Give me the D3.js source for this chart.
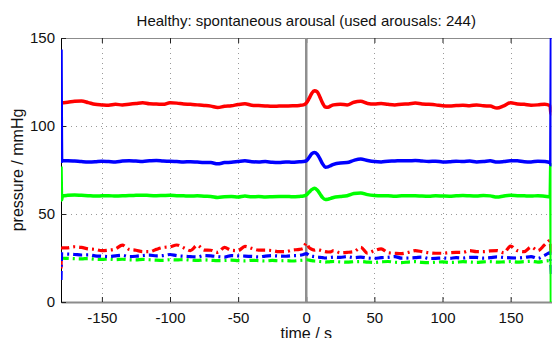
<!DOCTYPE html>
<html>
<head>
<meta charset="utf-8">
<script src="https://cdn.jsdelivr.net/npm/d3@7"></script>
<style>
    body { margin: 0; background: #fff; }
    svg { display: block; font-family: "Liberation Sans", Arial, Helvetica, sans-serif; }
</style>
</head>
<body>
<div id="chart"></div>
<script>
//---------------- data ----------------
// time axis (s), shared by every curve
var times = [
    -180, -179.5, -179,
    -175, -170, -165, -160, -155, -150, -145, -140, -135, -130, -125, -120, -115, -110, -105, -100,
    -95, -90, -85, -80, -75, -70, -65, -60, -55, -50, -45, -40, -35, -30, -25, -20, -15, -10, -5,
    -2, 0, 2, 4, 6, 8, 10, 12, 14, 16, 18, 20,
    25, 30, 35, 40, 45, 50, 55, 60, 65, 70, 75, 80, 85, 90, 95, 100, 105, 110, 115, 120,
    125, 130, 135, 140, 145, 150, 155, 160, 165, 170, 175,
    179, 179.5, 180
];

// solid curves
var redSolid = [
    113, 113, 113.2,
    113.5, 114, 114.2, 113.3, 112.3, 112, 111.8, 112.3, 112, 112.4, 112.8, 113.2, 112.6, 112.5, 112.3, 113.2,
    113, 112.5, 112.3, 112, 111.7, 111.3, 110.5, 111.2, 111.5, 112.2, 112.6, 111.8, 111.6, 111.4, 111.2, 111.3, 111.4, 111.5, 111.7,
    112, 113, 115.5, 118.5, 120, 119.5, 116.5, 113, 110.8, 110.6, 111.4, 112,
    112.4, 112, 113.5, 114, 112.8, 112.5, 112.8, 112.3, 112, 112.4, 112.5, 113, 112.5, 112.3, 112, 111.5, 111.4, 111.6, 111.8, 111.5,
    112, 111.5, 111.3, 110.2, 111.5, 113.2, 112.5, 112.3, 111.8, 112, 112.4,
    111.5, 107, 107
];
var blueSolid = [
    143.5, 80, 80.2,
    80.3, 80.1, 79.8, 79.6, 79.7, 80, 79.8, 79.6, 80.1, 80.3, 80.1, 79.9, 80.2, 80.4, 80.1, 80,
    79.8, 79.6, 79.7, 79.5, 79.3, 79.2, 78.5, 79.2, 79.4, 79.8, 80.2, 79.7, 79.6, 79.8, 79.4, 79.3, 79.6, 79.4, 79.7,
    79.8, 80.2, 82, 84.2, 85, 84, 81.5, 78.5, 76.6, 76.8, 77.5, 78.2,
    79, 79.2, 80.5, 81.2, 80.4, 79.8, 79.6, 80, 80.1, 80.3, 80.2, 80.4, 80.1, 79.9, 80, 79.6, 79.7, 80, 79.8, 80.1,
    79.6, 79.8, 80.2, 79.5, 79.8, 80.3, 80.2, 79.7, 79.6, 80, 79.8,
    79.2, 78, 160
];
var greenSolid = [
    77, 58, 60.3,
    60.6, 60.8, 60.6, 60.4, 60.2, 60.3, 60.4, 60.2, 60.3, 60.5, 60.6, 60.7, 60.5, 60.4, 60.5, 60.6,
    60.4, 60.3, 60.2, 60.3, 60.1, 60, 59.4, 59.8, 60, 59.6, 60.2, 59.8, 59.9, 59.7, 59.8, 59.9, 60, 59.8, 60,
    60.2, 60.8, 62.3, 63.8, 64.6, 63.6, 61.5, 59.3, 58.3, 58.4, 58.9, 59.4,
    59.9, 60.4, 61.6, 62, 61, 60.5, 60.3, 60.4, 60.1, 60.3, 60.4, 60.4, 60.2, 60.1, 60.3, 60.2, 60.1, 60.3, 60.5, 60.3,
    60.2, 60.5, 60.3, 59.6, 60.2, 60.6, 60.4, 60.3, 60.2, 60.4, 60.1,
    59.8, 78, -10
];

// dash-dot curves
var redDash = [
    19, 30.5, 30.8,
    30.8, 31.4, 31, 30.2, 29.9, 29.2, 29.5, 30.2, 32.3, 29.9, 29.4, 28.6, 28.6, 29.9, 31, 31.4,
    32.4, 30.8, 29.2, 32.2, 29.5, 29.4, 28.2, 31, 29.4, 29.2, 31.6, 30.5, 29.5, 29.5, 29.2, 28.6, 28.6, 29.5, 29.9,
    30.5, 33.5, 31, 30, 29.5, 29.8, 29.5, 29, 28.6, 28.4, 28.5, 29.2,
    28, 28.2, 28.6, 31, 27.7, 29.2, 30.2, 28, 27.7, 27.5, 28.2, 29.2, 28.6, 28, 27.7, 27.7, 28, 28.2, 28.2, 29.2,
    28.6, 28.6, 29, 29.2, 28, 31.8, 29.2, 28.6, 31.2, 29.2, 32.5,
    35, 30, 28
];
var blueDash = [
    12.5, 27.5, 27.3,
    27.2, 27, 26.7, 26.8, 26.2, 26, 25.8, 26.2, 26.5, 25.8, 26, 26.4, 26.6, 26.2, 26.4, 27,
    26.3, 26, 25.8, 25.6, 26.4, 26.2, 25.8, 25.5, 26.4, 26.2, 26.1, 25.9, 25.6, 26.1, 26.3, 26.1, 26, 26.3, 26.5,
    27, 27.5, 26.5, 26, 25.8, 25.5, 25.4, 25.2, 25, 25.1, 25.3, 25.5,
    25.3, 25.8, 25.2, 25.5, 25, 24.8, 25.2, 25.4, 25.8, 24.9, 25, 25.2, 25.5, 24.7, 24.8, 25, 24.8, 25.2, 25, 25.4,
    25.3, 24.9, 25.2, 25.6, 25.3, 25.1, 25, 25.3, 25.8, 24.8, 26.5,
    28, 22, 15
];
var greenDash = [
    26, 25, 24.9,
    24.8, 24.6, 24.5, 24.7, 24.3, 24.2, 24.4, 24.1, 24.3, 24, 23.9, 24.2, 24, 23.8, 23.7, 24,
    23.9, 24.1, 23.8, 23.6, 23.9, 23.7, 23.5, 23.6, 23.8, 23.5, 23.4, 23.7, 23.5, 23.3, 23.6, 23.4, 23.5, 23.3, 23.6,
    23.8, 24, 23.8, 23.5, 23.3, 23.2, 23, 22.9, 22.7, 22.8, 22.9, 23,
    22.8, 22.6, 22.9, 23, 22.7, 22.5, 22.8, 23, 22.6, 22.4, 22.7, 22.9, 22.5, 22.4, 22.6, 22.8, 22.5, 22.6, 22.9, 22.7,
    22.5, 22.8, 22.9, 22.6, 22.8, 23, 22.7, 22.9, 23.1, 22.7, 23.2,
    23.5, 23, 22
];

// tick labels
var xTicks = [-150, -100, -50, 0, 50, 100, 150];
var yTicks = [0, 50, 100, 150];

var titleText = "Healthy: spontaneous arousal (used arousals: 244)";
var xLabel = "time / s";
var yLabel = "pressure / mmHg";

//---------------- setting up the space ----------------
var width = 552;
var height = 338;
var margin = { top: 38, right: 0.5, bottom: 36, left: 61 };

var svg = d3
    .select("#chart")
    .append("svg")
    .attr("width", width)
    .attr("height", height);

var xScale = d3
    .scaleLinear()
    .domain([-180, 180])
    .range([margin.left, width - margin.right]);

var yScale = d3
    .scaleLinear()
    .domain([0, 150])
    .range([height - margin.bottom, margin.top]);

var plotLeft = xScale(-180);
var plotRight = xScale(180);
var plotTop = yScale(150);
var plotBottom = yScale(0);

// plain hyphen for negatives, like the original
var plainFormat = function(d) { return String(d); };

// clip the curves to the axes box
svg.append("clipPath")
    .attr("id", "plotClip")
    .append("rect")
    .attr("x", plotLeft)
    .attr("y", plotTop)
    .attr("width", plotRight - plotLeft)
    .attr("height", plotBottom - plotTop);

//---------------- grid ----------------
var grid = svg.append("g").attr("class", "grid");

grid.selectAll("line.vgrid")
    .data(xTicks.filter(function(d) { return d !== 0; }))
    .enter()
    .append("line")
    .attr("x1", function(d) { return Math.round(xScale(d)) + 0.5; })
    .attr("x2", function(d) { return Math.round(xScale(d)) + 0.5; })
    .attr("y1", plotTop)
    .attr("y2", plotBottom)
    .attr("stroke", "#9a9a9a")
    .attr("stroke-width", 1)
    .attr("stroke-dasharray", "1,4");

grid.selectAll("line.hgrid")
    .data(yTicks.filter(function(d) { return d !== 0 && d !== 150; }))
    .enter()
    .append("line")
    .attr("x1", plotLeft)
    .attr("x2", plotRight)
    .attr("y1", function(d) { return Math.round(yScale(d)) + 0.5; })
    .attr("y2", function(d) { return Math.round(yScale(d)) + 0.5; })
    .attr("stroke", "#9a9a9a")
    .attr("stroke-width", 1)
    .attr("stroke-dasharray", "1,4");

//---------------- axes ----------------
var xAxisBottom = d3.axisBottom(xScale).tickValues(xTicks).tickFormat(plainFormat)
    .tickSizeInner(-5).tickSizeOuter(0).tickPadding(10);
var xAxisTop = d3.axisTop(xScale).tickValues(xTicks).tickFormat("")
    .tickSizeInner(-5).tickSizeOuter(0);
var yAxisLeft = d3.axisLeft(yScale).tickValues(yTicks).tickFormat(plainFormat)
    .tickSizeInner(-5).tickSizeOuter(0).tickPadding(6);

svg.append("g")
    .attr("class", "xAxis")
    .attr("transform", "translate(0," + plotBottom + ")")
    .call(xAxisBottom);

svg.append("g")
    .attr("class", "xAxisTop")
    .attr("transform", "translate(0," + plotTop + ")")
    .call(xAxisTop);

svg.append("g")
    .attr("class", "yAxis")
    .attr("transform", "translate(" + plotLeft + ",0)")
    .call(yAxisLeft);

svg.selectAll(".xAxis text, .yAxis text")
    .attr("font-size", 15)
    .attr("font-family", "Liberation Sans, Arial, sans-serif")
    .attr("fill", "#111");

svg.selectAll(".xAxis .tick line, .xAxisTop .tick line, .yAxis .tick line")
    .attr("stroke", "#222");

svg.selectAll(".xAxis .domain, .xAxisTop .domain").attr("stroke", "#8c8c8c");
svg.select(".xAxis .domain").attr("stroke-width", 2);
svg.select(".yAxis .domain").attr("stroke", "#000");

// gray reference line at t = 0
svg.append("line")
    .attr("x1", xScale(0))
    .attr("x2", xScale(0))
    .attr("y1", plotTop)
    .attr("y2", plotBottom)
    .attr("stroke", "#8f8f8f")
    .attr("stroke-width", 2.5);

//---------------- curves ----------------
var series = [
    { name: "redDash", values: redDash, color: "#ff0000", dash: "9,4,2,4" },
    { name: "greenDash", values: greenDash, color: "#00ff00", dash: "9,4,2,4" },
    { name: "blueDash", values: blueDash, color: "#0000ff", dash: "9,4,2,4" },
    { name: "redSolid", values: redSolid, color: "#ff0000", dash: null },
    { name: "greenSolid", values: greenSolid, color: "#00ff00", dash: null },
    { name: "blueSolid", values: blueSolid, color: "#0000ff", dash: null }
];

var line = d3.line()
    .x(function(d) { return xScale(d[0]); })
    .y(function(d) { return yScale(d[1]); })
    .curve(d3.curveMonotoneX);

var curves = svg.append("g").attr("clip-path", "url(#plotClip)");

curves.selectAll("path")
    .data(series)
    .enter()
    .append("path")
    .attr("d", function(s) {
        return line(times.map(function(t, i) { return [t, s.values[i]]; }));
    })
    .attr("fill", "none")
    .attr("stroke", function(s) { return s.color; })
    .attr("stroke-width", function(s) { return s.dash ? 3.2 : 3.5; })
    .attr("stroke-dasharray", function(s) { return s.dash; })
    .attr("stroke-linejoin", "round");

//---------------- texts ----------------
svg.append("text")
    .attr("x", xScale(0))
    .attr("y", 26)
    .attr("text-anchor", "middle")
    .attr("font-size", 15)
    .attr("fill", "#111")
    .text(titleText);

svg.append("text")
    .attr("x", xScale(0))
    .attr("y", 339)
    .attr("text-anchor", "middle")
    .attr("font-size", 16)
    .attr("fill", "#111")
    .text(xLabel);

svg.append("text")
    .attr("transform", "translate(23," + (plotTop + plotBottom) / 2 + ")rotate(-90)")
    .attr("text-anchor", "middle")
    .attr("font-size", 16)
    .attr("fill", "#111")
    .text(yLabel);
</script>
</body>
</html>
